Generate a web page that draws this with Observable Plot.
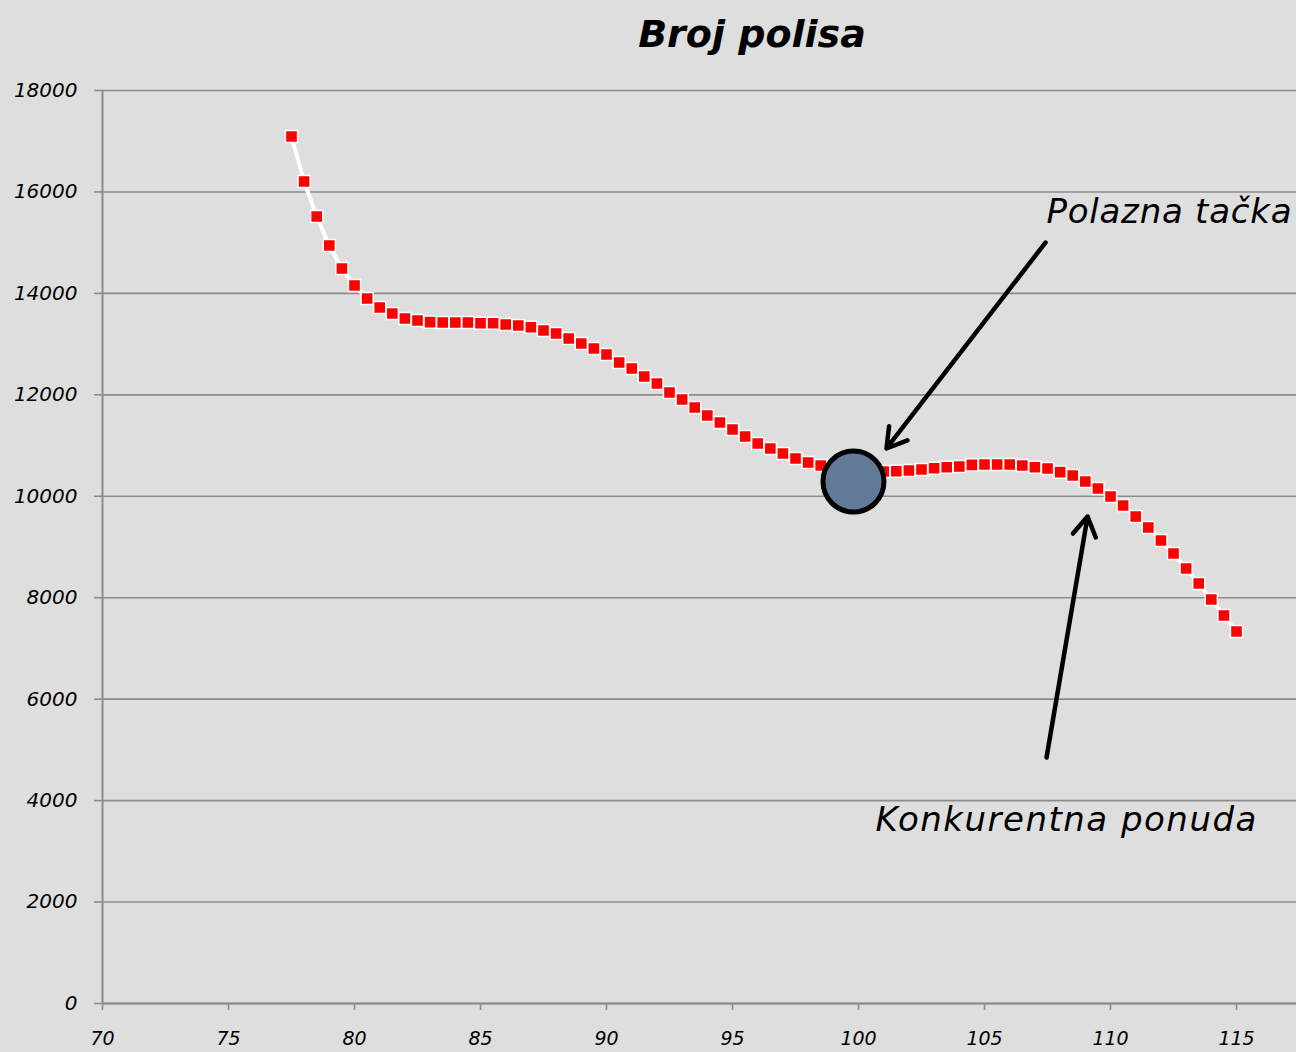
<!DOCTYPE html>
<html><head><meta charset="utf-8">
<script src="https://cdn.jsdelivr.net/npm/d3@7"></script>
<script src="https://cdn.jsdelivr.net/npm/@observablehq/plot@0.6"></script>
<style>
body{margin:0;background:#dedede;width:1296px;height:1052px;overflow:hidden}
#title{position:relative;height:70px;}
#title span{position:absolute;left:752px;top:12px;transform:translateX(-50%);font:italic bold 38px "DejaVu Sans";white-space:nowrap;color:#000}
#chart svg{display:block}
</style></head><body>
<div id="title"><span>Broj polisa</span></div>
<div id="chart"></div>
<script>
// Price (x) and number of policies (y)
const prices = [77.5, 78, 78.5, 79, 79.5, 80, 80.5, 81, 81.5, 82, 82.5, 83, 83.5, 84, 84.5, 85, 85.5, 86, 86.5, 87,
  87.5, 88, 88.5, 89, 89.5, 90, 90.5, 91, 91.5, 92, 92.5, 93, 93.5, 94, 94.5, 95, 95.5, 96, 96.5, 97,
  97.5, 98, 98.5, 99, 99.5, 100, 100.5, 101, 101.5, 102, 102.5, 103, 103.5, 104, 104.5, 105, 105.5, 106, 106.5, 107,
  107.5, 108, 108.5, 109, 109.5, 110, 110.5, 111, 111.5, 112, 112.5, 113, 113.5, 114, 114.5, 115];
const policies = [17093, 16206, 15516, 14944, 14491, 14155, 13899, 13722, 13603, 13505, 13465, 13432, 13426, 13426, 13426, 13412, 13412, 13386, 13367, 13333,
  13268, 13209, 13110, 13012, 12913, 12795, 12637, 12519, 12361, 12223, 12046, 11908, 11750, 11592, 11454, 11316, 11178, 11040, 10942, 10843,
  10745, 10666, 10607, 10567, 10528, 10508, 10488, 10488, 10494, 10508, 10528, 10553, 10573, 10587, 10620, 10626, 10626, 10626, 10607, 10573,
  10547, 10475, 10410, 10291, 10153, 9996, 9818, 9601, 9384, 9128, 8872, 8576, 8280, 7965, 7649, 7334];

const xTicks = [70, 75, 80, 85, 90, 95, 100, 105, 110, 115];
const yTicks = [0, 2000, 4000, 6000, 8000, 10000, 12000, 14000, 16000, 18000];

// Starting point
const startX = [99.8];
const startY = [10290];

// Annotations
const noteLabels = ["Polazna tačka", "Konkurentna ponuda"];
const noteX = [107.46, 100.67];
const noteY = [15595, 3608];

// Arrows: from (x1,y1) to tip (x2,y2)
const arrowX1 = [107.42, 107.46];
const arrowY1 = [15003, 4850];
const arrowX2 = [101.11, 109.09];
const arrowY2 = [10942, 9601];

const series = prices.map((p, i) => ({price: p, count: policies[i]}));
const start = startX.map((x, i) => ({x, y: startY[i]}));
const notes = noteLabels.map((t, i) => ({t, x: noteX[i], y: noteY[i]}));
const arrows = arrowX1.map((x1, i) => ({x1, y1: arrowY1[i], x2: arrowX2[i], y2: arrowY2[i]}));

const grid = "#8c8c8c";

const chart = Plot.plot({
  width: 1296, height: 982,
  marginLeft: 102, marginRight: 0, marginTop: 20, marginBottom: 49,
  style: {background: "#dedede", fontFamily: "DejaVu Sans", fontStyle: "italic", fontSize: "20px", color: "#000", overflow: "visible"},
  x: {domain: [70, 117.38]},
  y: {domain: [0, 18000]},
  marks: [
    Plot.ruleY(yTicks, {stroke: grid, strokeWidth: 1.6}),
    Plot.axisY({ticks: yTicks, tickSize: 8, tickPadding: 17, tickFormat: d => String(d), stroke: grid, strokeWidth: 1.6, label: null, fill: "#000"}),
    Plot.axisX({ticks: xTicks, tickSize: 7, tickPadding: 21, tickFormat: d => String(d), stroke: grid, strokeWidth: 1.6, label: null, fill: "#000", fontSize: 19}),
    Plot.ruleX([70], {stroke: grid, strokeWidth: 2}),
    Plot.ruleY([0], {stroke: grid, strokeWidth: 2}),
    Plot.line(series, {x: "price", y: "count", stroke: "#ffffff", strokeWidth: 4}),
    Plot.dot(series, {x: "price", y: "count", symbol: "square", r: 6.8, fill: "#ff0000", stroke: "#ffffff", strokeWidth: 1.4}),
    Plot.dot(start, {x: "x", y: "y", r: 30.5, fill: "#617a98", stroke: "#000", strokeWidth: 5}),
    Plot.arrow(arrows, {x1: "x1", y1: "y1", x2: "x2", y2: "y2", stroke: "#000", strokeWidth: 4.5, headLength: 7.5, headAngle: 62}),
    Plot.text(notes, {x: "x", y: "y", text: "t", textAnchor: "start", fontSize: 34, fontStyle: "italic", fontFamily: "DejaVu Sans", fill: "#000"})
  ]
});
document.getElementById("chart").appendChild(chart);
chart.querySelectorAll("text").forEach(el => {
  if (el.textContent === "Konkurentna ponuda") { el.setAttribute("textLength", 381); el.setAttribute("lengthAdjust", "spacing"); }
  if (el.textContent === "Polazna tačka") { el.setAttribute("textLength", 245); el.setAttribute("lengthAdjust", "spacing"); }
});
</script>
</body></html>
